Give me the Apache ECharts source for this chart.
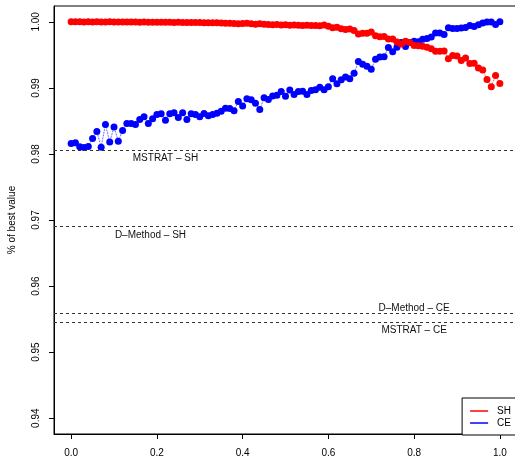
<!DOCTYPE html>
<html>
<head>
<meta charset="utf-8">
<script src="https://cdn.jsdelivr.net/npm/echarts@6/dist/echarts.min.js"></script>
<style>
  html, body { margin: 0; padding: 0; background: #fff; }
  #chart-container { width: 515px; height: 457px; }
</style>
</head>
<body>
<div id="chart-container"></div>
<script>
// weight of the SH criterion, 0 to 1 by 0.01
var weights = [
  0.00, 0.01, 0.02, 0.03, 0.04, 0.05, 0.06, 0.07, 0.08, 0.09,
  0.10, 0.11, 0.12, 0.13, 0.14, 0.15, 0.16, 0.17, 0.18, 0.19,
  0.20, 0.21, 0.22, 0.23, 0.24, 0.25, 0.26, 0.27, 0.28, 0.29,
  0.30, 0.31, 0.32, 0.33, 0.34, 0.35, 0.36, 0.37, 0.38, 0.39,
  0.40, 0.41, 0.42, 0.43, 0.44, 0.45, 0.46, 0.47, 0.48, 0.49,
  0.50, 0.51, 0.52, 0.53, 0.54, 0.55, 0.56, 0.57, 0.58, 0.59,
  0.60, 0.61, 0.62, 0.63, 0.64, 0.65, 0.66, 0.67, 0.68, 0.69,
  0.70, 0.71, 0.72, 0.73, 0.74, 0.75, 0.76, 0.77, 0.78, 0.79,
  0.80, 0.81, 0.82, 0.83, 0.84, 0.85, 0.86, 0.87, 0.88, 0.89,
  0.90, 0.91, 0.92, 0.93, 0.94, 0.95, 0.96, 0.97, 0.98, 0.99,
  1.00
];

var shValues = [
  1.00000, 1.00000, 1.00000, 0.99998, 1.00000, 0.99998, 1.00000, 0.99998, 0.99998, 1.00000,
  0.99998, 0.99997, 0.99998, 0.99997, 0.99997, 0.99997, 0.99995, 0.99997, 0.99995, 0.99995,
  0.99995, 0.99994, 0.99995, 0.99994, 0.99992, 0.99994, 0.99992, 0.99991, 0.99992, 0.99991,
  0.99989, 0.99986, 0.99988, 0.99985, 0.99986, 0.99983, 0.99977, 0.99980, 0.99974, 0.99971,
  0.99974, 0.99980, 0.99971, 0.99965, 0.99970, 0.99962, 0.99959, 0.99956, 0.99959, 0.99953,
  0.99955, 0.99950, 0.99953, 0.99950, 0.99944, 0.99947, 0.99944, 0.99944, 0.99941, 0.99951,
  0.99933, 0.99909, 0.99917, 0.99894, 0.99883, 0.99891, 0.99868, 0.99815, 0.99827, 0.99827,
  0.99845, 0.99788, 0.99774, 0.99777, 0.99739, 0.99739, 0.99694, 0.99666, 0.99706, 0.99686,
  0.99641, 0.99638, 0.99630, 0.99615, 0.99592, 0.99554, 0.99554, 0.99557, 0.99443, 0.99492,
  0.99484, 0.99413, 0.99451, 0.99371, 0.99375, 0.99303, 0.99272, 0.99128, 0.99019, 0.99189,
  0.99067
];

var ceValues = [
  0.98159, 0.98170, 0.98109, 0.98099, 0.98114, 0.98235, 0.98341, 0.98103, 0.98447, 0.98182,
  0.98409, 0.98194, 0.98356, 0.98462, 0.98462, 0.98447, 0.98523, 0.98564, 0.98462, 0.98534,
  0.98599, 0.98607, 0.98511, 0.98610, 0.98625, 0.98550, 0.98625, 0.98523, 0.98610, 0.98599,
  0.98564, 0.98611, 0.98579, 0.98596, 0.98617, 0.98647, 0.98693, 0.98690, 0.98655, 0.98793,
  0.98725, 0.98837, 0.98822, 0.98766, 0.98672, 0.98849, 0.98823, 0.98876, 0.98887, 0.98945,
  0.98872, 0.98967, 0.98899, 0.98945, 0.98948, 0.98899, 0.98960, 0.98973, 0.99011, 0.98973,
  0.99019, 0.99140, 0.99064, 0.99125, 0.99165, 0.99137, 0.99221, 0.99398, 0.99357, 0.99327,
  0.99281, 0.99433, 0.99468, 0.99471, 0.99610, 0.99547, 0.99615, 0.99686, 0.99627, 0.99686,
  0.99706, 0.99700, 0.99736, 0.99748, 0.99771, 0.99832, 0.99832, 0.99809, 0.99911, 0.99898,
  0.99900, 0.99908, 0.99915, 0.99945, 0.99929, 0.99956, 0.99982, 0.99998, 0.99997, 0.99961,
  1.00000
];

// reference methods
var refNames = ["MSTRAT – SH", "D–Method – SH", "D–Method – CE", "MSTRAT – CE"];
var refValues = [0.98053, 0.96901, 0.95586, 0.95450];

var xTicks = [0, 0.2, 0.4, 0.6, 0.8, 1.0];
var yTicks = [0.94, 0.95, 0.96, 0.97, 0.98, 0.99, 1.00];

var dom = document.getElementById("chart-container");
var myChart = echarts.init(dom, null, { renderer: "canvas" });

var font = "Liberation Sans";

function pairs(vals) {
  return vals.map(function (v, i) {
    return [weights[i], v];
  });
}

// label placement for the reference lines: [x, above?, distance]
var refLabelPos = [[0.22, false, 3], [0.185, false, 4], [0.80, true, 0], [0.80, false, 3]];

var option = {
  animation: false,
  backgroundColor: "#fff",
  textStyle: { fontFamily: font },
  grid: {
    left: 54,
    top: 6,
    width: 463,
    bottom: 23,
    outerBoundsMode: "none",
    containLabel: false,
    show: true,
    borderColor: "#000",
    borderWidth: 1
  },
  legend: {
    data: [{ name: "SH" }, { name: "CE" }],
    orient: "vertical",
    right: -16,
    top: 398,
    icon: "rect",
    itemWidth: 18,
    itemHeight: 1.5,
    itemGap: 0,
    padding: [7, 20, 6, 8],
    borderColor: "#000",
    borderWidth: 1,
    borderRadius: 0,
    backgroundColor: "#fff",
    selectedMode: false,
    textStyle: {
      fontFamily: font,
      fontSize: 10,
      lineHeight: 12,
      color: "#000",
      padding: [0, 0, 0, 4]
    }
  },
  xAxis: {
    type: "value",
    min: -0.04,
    max: 1.04,
    axisLine: { show: true, onZero: false, lineStyle: { color: "#000", width: 1 } },
    axisTick: { show: true, length: 5, customValues: xTicks, lineStyle: { color: "#000" } },
    axisLabel: {
      customValues: xTicks,
      margin: 14,
      fontFamily: font,
      fontSize: 10,
      color: "#000",
      formatter: function (v) { return v.toFixed(1); }
    },
    splitLine: { show: false }
  },
  yAxis: {
    type: "value",
    min: 0.9376,
    max: 1.0024,
    name: "% of best value",
    nameLocation: "middle",
    nameGap: 37,
    nameTextStyle: { fontFamily: font, fontSize: 10, color: "#000" },
    axisLine: { show: true, onZero: false, lineStyle: { color: "#000", width: 1 } },
    axisTick: { show: true, length: 5, customValues: yTicks, lineStyle: { color: "#000" } },
    axisLabel: {
      customValues: yTicks,
      rotate: 90,
      margin: 13,
      fontFamily: font,
      fontSize: 10,
      color: "#000",
      formatter: function (v) { return v.toFixed(2); }
    },
    splitLine: { show: false }
  },
  series: [
    {
      name: "CE",
      type: "line",
      data: pairs(ceValues),
      symbol: "circle",
      symbolSize: 7,
      showAllSymbol: true,
      color: "#0000ff",
      itemStyle: { color: "#0000ff" },
      lineStyle: { color: "#0000ff", width: 0.8, type: "dotted" },
      z: 3
    },
    {
      name: "SH",
      type: "line",
      data: pairs(shValues),
      symbol: "circle",
      symbolSize: 7,
      showAllSymbol: true,
      color: "#ff0000",
      itemStyle: { color: "#ff0000" },
      lineStyle: { color: "#ff0000", width: 0.8, type: "dotted" },
      z: 4
    },
    {
      name: "ref",
      type: "line",
      data: [],
      markLine: {
        silent: true,
        symbol: "none",
        precision: 5,
        label: { show: false },
        lineStyle: { color: "#333", width: 1, type: [3, 3] },
        data: refValues.map(function (v) { return { yAxis: v }; })
      },
      markPoint: {
        symbol: "circle",
        symbolSize: 0,
        silent: true,
        data: refValues.map(function (v, i) {
          return {
            name: refNames[i],
            coord: [refLabelPos[i][0], v],
            label: {
              show: true,
              formatter: refNames[i],
              position: refLabelPos[i][1] ? "top" : "bottom",
              distance: refLabelPos[i][2],
              fontFamily: font,
              fontSize: 10,
              color: "#111"
            }
          };
        })
      }
    }
  ]
};

myChart.setOption(option);
window.addEventListener("resize", myChart.resize);
</script>
</body>
</html>
